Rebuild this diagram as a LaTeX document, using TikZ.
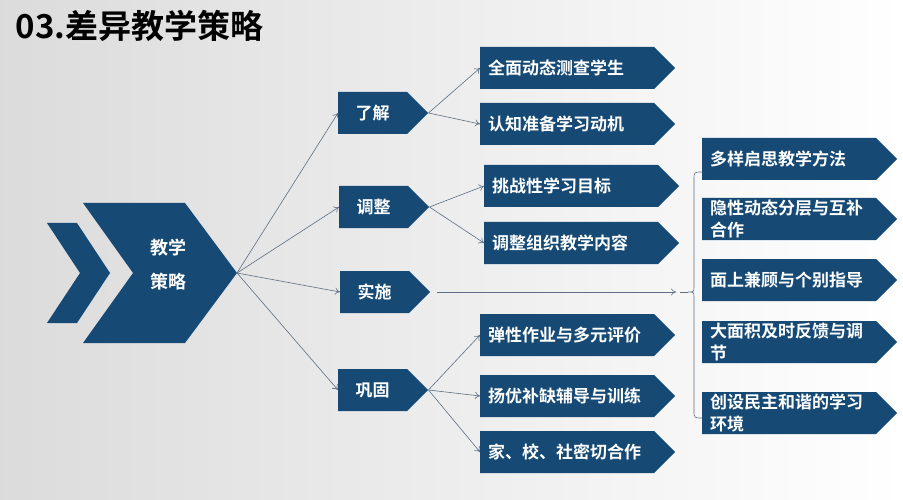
\documentclass[tikz,border=0pt]{standalone}
\usepackage{fontspec}
\setmainfont{Noto Sans CJK SC}[BoldFont={Noto Sans CJK SC Bold}]
\usetikzlibrary{shapes.symbols,arrows.meta}
\definecolor{navy}{RGB}{22,74,117}
\definecolor{wire}{RGB}{95,110,130}
\tikzset{
  box/.style={signal, signal to=east, signal pointer angle=90, fill=navy, text=white,
    font=\bfseries\fontsize{17}{22}\selectfont, minimum height=42, inner ysep=0pt, inner xsep=8pt, anchor=west},
  lvlone/.style={box, minimum width=90, text width=50, align=center},
  lvltwo/.style={box, minimum width=192, text width=158, align=left},
  lvlthree/.style={box, minimum width=191, text width=158, align=left},
  link/.style={draw=wire, line width=0.6pt, -{To[length=5pt,width=7pt]}}
}
\begin{document}
\begin{tikzpicture}[x=1pt,y=-1pt]
% background
\shade[left color=black!14, right color=white] (0,0) rectangle (903,500);
\useasboundingbox (0,0) rectangle (903,500);
\node[anchor=west, font=\bfseries\fontsize{33}{35}\selectfont] (title) at (12,26) {03.差异教学策略};

% chevrons
\fill[navy] (47,223) -- (77,223) -- (110,273) -- (77,323) -- (47,323) -- (80,273) -- cycle;
\fill[navy] (83,203) -- (185,203) -- (237,273) -- (185,343) -- (83,343) -- (133,273) -- cycle;
\coordinate (tip) at (237,273);
\node[text=white, font=\bfseries\fontsize{18}{34}\selectfont, align=center] (core) at (168,265) {教学\\策略};

% first level
\node[lvlone] (know) at (338,113) {了解};
\node[lvlone] (adjust) at (339,207) {调整};
\node[lvlone] (act) at (340,292) {实施};
\node[lvlone] (fix) at (338,390) {巩固};

% second level
\node[lvltwo] (k1) at (480,68) {全面动态测查学生};
\node[lvltwo] (k2) at (480,124) {认知准备学习动机};
\node[lvltwo] (a1) at (484,186) {挑战性学习目标};
\node[lvltwo] (a2) at (484,243) {调整组织教学内容};
\node[lvltwo] (f1) at (480,335) {弹性作业与多元评价};
\node[lvltwo] (f2) at (480,396) {扬优补缺辅导与训练};
\node[lvltwo] (f3) at (480,452) {家、校、社密切合作};

% third level
\node[lvlthree] (m1) at (702,159) {多样启思教学方法};
\node[lvlthree] (m2) at (702,219) {隐性动态分层与互补\\合作};
\node[lvlthree] (m3) at (702,280) {面上兼顾与个别指导};
\node[lvlthree] (m4) at (702,342) {大面积及时反馈与调\\节};
\node[lvlthree] (m5) at (702,413) {创设民主和谐的学习\\环境};

% connectors
\foreach \n in {know,adjust,act,fix} \draw[link] (tip) -- (\n.west);
\foreach \n in {k1,k2} \draw[link] (know.east) -- (\n.west);
\foreach \n in {a1,a2} \draw[link] (adjust.east) -- (\n.west);
\foreach \n in {f1,f2,f3} \draw[link] (fix.east) -- (\n.west);
\coordinate (mid) at (676,292);
\draw[link] ([xshift=7pt]act.east) -- (mid);
\draw[wire, line width=0.6pt] (680,292) -- (688,292);
\draw[wire, line width=0.6pt] (702,172) .. controls (694,172) .. (694,180) -- (694,286)
  .. controls (694,292) .. (688,292) .. controls (694,292) .. (694,298) -- (694,410)
  .. controls (694,418) .. (702,418);
\end{tikzpicture}
\end{document}
